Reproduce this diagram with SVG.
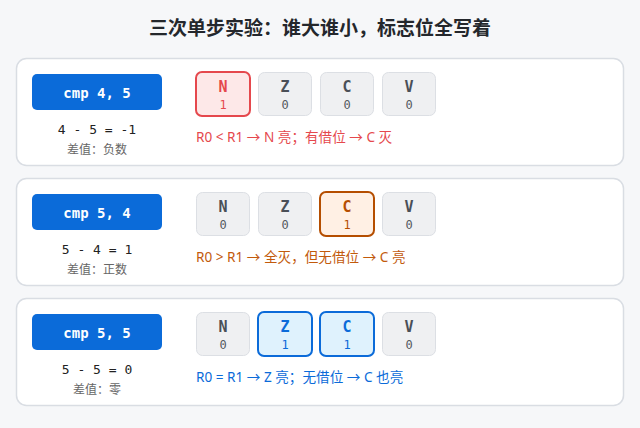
<svg xmlns="http://www.w3.org/2000/svg" width="640" height="428" viewBox="0 0 640 428">
<style>
.panel{fill:#ffffff;stroke:#d9dde3;stroke-width:1.5}
.btn{fill:#0b6bd9}
.btnt{font-family:"DejaVu Sans Mono",monospace;font-size:14px;font-weight:bold;fill:#ffffff;text-anchor:middle}
.eq{font-family:"DejaVu Sans Mono",monospace;font-size:13px;fill:#222;text-anchor:middle}
.diff{font-family:"Noto Sans CJK SC",sans-serif;font-size:12px;fill:#666;text-anchor:middle}
.off{fill:#eff0f2;stroke:#dcdfe4;stroke-width:1}
.fl{font-family:"DejaVu Sans Mono",monospace;font-size:15px;font-weight:bold;text-anchor:middle;fill:#4a4f57}
.fv{font-family:"DejaVu Sans Mono",monospace;font-size:12px;text-anchor:middle;fill:#555a60}
.note{font-family:"Noto Sans","Noto Sans CJK SC",sans-serif;font-size:13.6px}
.red{fill:#fde8e8;stroke:#e5484d;stroke-width:2}
.org{fill:#fff0e4;stroke:#b54e00;stroke-width:2}
.blu{fill:#dff2fd;stroke:#0b6bd9;stroke-width:2}
</style>
<rect width="640" height="428" fill="#f6f7f9"/>
<text x="320" y="35" text-anchor="middle" font-family="Noto Sans CJK SC, sans-serif" font-size="19" font-weight="bold" fill="#24272c">三次单步实验：谁大谁小，标志位全写着</text>

<g id="row1">
<rect class="panel" x="16.5" y="58.5" width="607" height="107" rx="10"/>
<rect class="btn" x="32" y="74" width="130" height="36" rx="5"/>
<text class="btnt" x="97" y="98">cmp 4, 5</text>
<text class="eq" x="97" y="134">4 - 5 = -1</text>
<text class="diff" x="97" y="154">差值：负数</text>
<rect class="red" x="196" y="72" width="54" height="44" rx="6"/>
<text class="fl" x="223" y="92" style="fill:#e5484d">N</text>
<text class="fv" x="223" y="109" style="fill:#e5484d">1</text>
<rect class="off" x="258.5" y="72.5" width="53" height="43" rx="6"/>
<text class="fl" x="285" y="92">Z</text>
<text class="fv" x="285" y="109">0</text>
<rect class="off" x="320.5" y="72.5" width="53" height="43" rx="6"/>
<text class="fl" x="347" y="92">C</text>
<text class="fv" x="347" y="109">0</text>
<rect class="off" x="382.5" y="72.5" width="53" height="43" rx="6"/>
<text class="fl" x="409" y="92">V</text>
<text class="fv" x="409" y="109">0</text>
<text class="note" x="196" y="142" fill="#e5484d">R0 &lt; R1 → N 亮；有借位 → C 灭</text>
</g>

<g id="row2">
<rect class="panel" x="16.5" y="178.5" width="607" height="107" rx="10"/>
<rect class="btn" x="32" y="194" width="130" height="36" rx="5"/>
<text class="btnt" x="97" y="218">cmp 5, 4</text>
<text class="eq" x="97" y="254">5 - 4 = 1</text>
<text class="diff" x="97" y="274">差值：正数</text>
<rect class="off" x="196.5" y="192.5" width="53" height="43" rx="6"/>
<text class="fl" x="223" y="212">N</text>
<text class="fv" x="223" y="229">0</text>
<rect class="off" x="258.5" y="192.5" width="53" height="43" rx="6"/>
<text class="fl" x="285" y="212">Z</text>
<text class="fv" x="285" y="229">0</text>
<rect class="org" x="320" y="192" width="54" height="44" rx="6"/>
<text class="fl" x="347" y="212" style="fill:#b54e00">C</text>
<text class="fv" x="347" y="229" style="fill:#b54e00">1</text>
<rect class="off" x="382.5" y="192.5" width="53" height="43" rx="6"/>
<text class="fl" x="409" y="212">V</text>
<text class="fv" x="409" y="229">0</text>
<text class="note" x="196" y="262" fill="#c25a0c">R0 &gt; R1 → 全灭，但无借位 → C 亮</text>
</g>

<g id="row3">
<rect class="panel" x="16.5" y="298.5" width="607" height="107" rx="10"/>
<rect class="btn" x="32" y="314" width="130" height="36" rx="5"/>
<text class="btnt" x="97" y="338">cmp 5, 5</text>
<text class="eq" x="97" y="374">5 - 5 = 0</text>
<text class="diff" x="97" y="394">差值：零</text>
<rect class="off" x="196.5" y="312.5" width="53" height="43" rx="6"/>
<text class="fl" x="223" y="332">N</text>
<text class="fv" x="223" y="349">0</text>
<rect class="blu" x="258" y="312" width="54" height="44" rx="6"/>
<text class="fl" x="285" y="332" style="fill:#0b6bd9">Z</text>
<text class="fv" x="285" y="349" style="fill:#0b6bd9">1</text>
<rect class="blu" x="320" y="312" width="54" height="44" rx="6"/>
<text class="fl" x="347" y="332" style="fill:#0b6bd9">C</text>
<text class="fv" x="347" y="349" style="fill:#0b6bd9">1</text>
<rect class="off" x="382.5" y="312.5" width="53" height="43" rx="6"/>
<text class="fl" x="409" y="332">V</text>
<text class="fv" x="409" y="349">0</text>
<text class="note" x="196" y="382" fill="#0b6bd9">R0 = R1 → Z 亮；无借位 → C 也亮</text>
</g>
<g id="connectors"></g>
</svg>
